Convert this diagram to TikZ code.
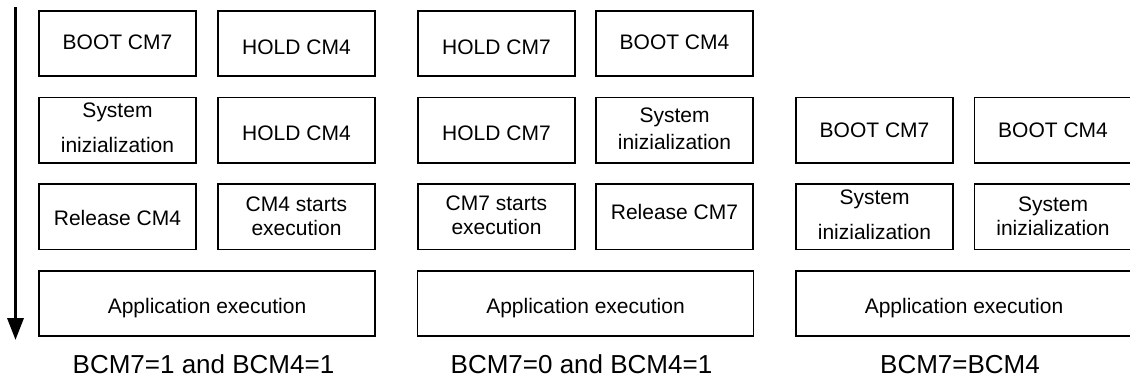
\documentclass[tikz,border=0pt]{standalone}
\usepackage{fontspec}
\setmainfont{Liberation Sans}
\usetikzlibrary{arrows.meta}

\tikzset{
  stagebox/.style={draw, line width=1.8pt, minimum width=157pt, minimum height=65.5pt, inner sep=0pt},
  widebox/.style={stagebox, minimum width=336pt},
  txt/.style={font=\fontsize{21}{24}\selectfont, align=center, inner sep=0pt},
  looseline/.style={font=\fontsize{21}{35}\selectfont},
  midline/.style={font=\fontsize{21}{27}\selectfont},
  caption/.style={font=\fontsize{26}{31}\selectfont, anchor=base, inner sep=0pt},
  timeline/.style={line width=3.5pt, -{Triangle[width=16pt,length=22pt]}},
}

\begin{document}
\begin{tikzpicture}[x=1pt,y=-1pt]
  \useasboundingbox (0,0) rectangle (1130,378);
  \clip (0,0) rectangle (1130,378);

  % time axis
  \coordinate (tstart) at (15.5,7);
  \coordinate (tend) at (15.5,340);
  \draw[timeline] (tstart) -- (tend);

  % ---- BCM7=1 and BCM4=1 ----
  \node[stagebox] (a11) at (117.5,43.5) {};
  \node[stagebox] (a12) at (296.5,43.5) {};
  \node[stagebox] (a21) at (117.5,130.2) {};
  \node[stagebox] (a22) at (296.5,130.2) {};
  \node[stagebox] (a31) at (117.5,216.8) {};
  \node[stagebox] (a32) at (296.5,216.8) {};
  \node[widebox]  (a4)  at (207,303.4) {};
  \node[txt, yshift=1pt]   (ta11) at (a11) {BOOT CM7};
  \node[txt, yshift=-4pt]  (ta12) at (a12) {HOLD CM4};
  \node[txt, looseline, yshift=2pt] (ta21) at (a21) {System\\inizialization};
  \node[txt, yshift=-3pt]  (ta22) at (a22) {HOLD CM4};
  \node[txt, yshift=-1pt]  (ta31) at (a31) {Release CM4};
  \node[txt, yshift=1pt]   (ta32) at (a32) {CM4 starts\\execution};
  \node[txt, yshift=-4.5pt] (ta4) at (a4) {Application execution};
  \node[caption] (ca) at (203.5,373) {BCM7=1 and BCM4=1};

  % ---- BCM7=0 and BCM4=1 ----
  \node[stagebox] (b11) at (496.5,43.5) {};
  \node[stagebox] (b12) at (674.5,43.5) {};
  \node[stagebox] (b21) at (496.5,130.2) {};
  \node[stagebox] (b22) at (674.5,130.2) {};
  \node[stagebox] (b31) at (496.5,216.8) {};
  \node[stagebox] (b32) at (674.5,216.8) {};
  \node[widebox]  (b4)  at (585.5,303.4) {};
  \node[txt, yshift=-4pt]  (tb11) at (b11) {HOLD CM7};
  \node[txt, yshift=1pt]   (tb12) at (b12) {BOOT CM4};
  \node[txt, yshift=-3pt]  (tb21) at (b21) {HOLD CM7};
  \node[txt, midline, yshift=1pt] (tb22) at (b22) {System\\inizialization};
  \node[txt, yshift=2pt]   (tb31) at (b31) {CM7 starts\\execution};
  \node[txt, yshift=5pt]   (tb32) at (b32) {Release CM7};
  \node[txt, yshift=-4.5pt] (tb4) at (b4) {Application execution};
  \node[caption] (cb) at (581.5,373) {BCM7=0 and BCM4=1};

  % ---- BCM7=BCM4 ----
  \node[stagebox] (c21) at (874.5,130.2) {};
  \node[stagebox] (c22) at (1053,130.2) {};
  \node[stagebox] (c31) at (874.5,216.8) {};
  \node[stagebox] (c32) at (1053,216.8) {};
  \node[widebox]  (c4)  at (964,303.4) {};
  \node[txt]              (tc21) at (c21) {BOOT CM7};
  \node[txt]              (tc22) at (c22) {BOOT CM4};
  \node[txt, looseline, yshift=2.5pt] (tc31) at (c31) {System\\inizialization};
  \node[txt, yshift=1pt]  (tc32) at (c32) {System\\inizialization};
  \node[txt, yshift=-4.5pt] (tc4) at (c4) {Application execution};
  \node[caption] (cc) at (960,373) {BCM7=BCM4};
\end{tikzpicture}
\end{document}
